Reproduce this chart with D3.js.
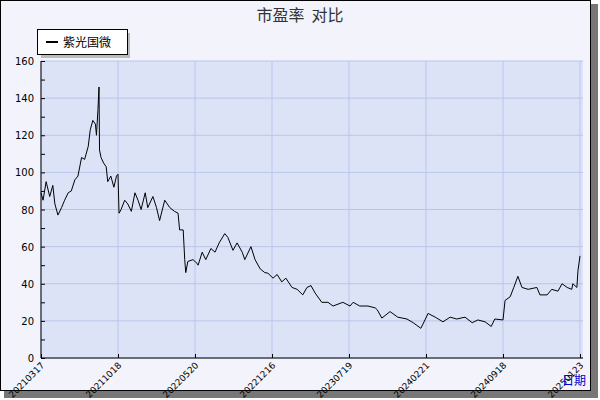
<!DOCTYPE html>
<html><head><meta charset="utf-8">
<script src="https://cdn.jsdelivr.net/npm/d3@7"></script>
<style>body{margin:0;background:#fff}</style></head>
<body><svg id="c" width="600" height="400"></svg>
<script>
const days=[0,4,10,17,23,27,33,40,46,53,59,66,72,79,85,92,96,101,106,108,111,113,114,117,122,127,130,136,142,147,150,152,156,163,169,176,183,189,195,203,208,218,225,231,241,251,260,267,270,277,280,282,286,296,304,306,314,321,331,339,347,358,364,374,382,392,397,409,417,427,436,442,452,460,469,477,489,499,510,518,526,534,547,559,569,588,602,608,621,637,651,655,664,680,695,713,725,740,748,754,768,783,797,810,826,840,851,865,877,884,900,904,914,921,929,937,949,966,972,986,995,1007,1015,1025,1034,1036,1044,1046,1050];
const pe=[89,85,95,87,93,83,77,81,85,89,90,96,98,108,107,114,123,128,126,120,134,146,112,108,105,103,95,98,92,98,99,78,80,85,83,79,89,85,80,89,81,87,81,74,85,81,79,78,69,69,53,46,52,53,51,50,57,53,59,57,62,67,65,58,62,57,53,60,53,48,46,45.7,43,45,41,43,38,37,34,38,39,35,30,30,28,30,28,30,28,28,27,26,21.5,25,22,21,19,16,20.5,24,22,19.5,22,21,22,19,20.5,19.5,17,21,20.5,31,33,38,44,38,37,38,34,34,37,36,40,38,37,40,38,47,55];
const tickDays=[0,150,300,450,600,750,900,1050];
const tickLabels=["20210317","20211018","20220520","20221216","20230719","20240221","20240918","20250123"];
const yTicks=[0,20,40,60,80,100,120,140,160];
const seriesName="紫光国微";

const svg=d3.select("#c");
const F="DejaVu Sans, sans-serif";
svg.append("rect").attr("x",4).attr("y",4).attr("width",594).attr("height",394).attr("fill","#777");
svg.append("rect").attr("x",0.5).attr("y",0.5).attr("width",590).attr("height",390).attr("fill","#f2f3fb").attr("stroke","#000");
const L=41,R=580,T=61,B=358;
const x=d3.scaleLinear().domain([0,1050]).range([L,R]);
const y=d3.scaleLinear().domain([0,160]).range([B,T]);
svg.append("rect").attr("x",L).attr("y",T).attr("width",583-L).attr("height",B-T).attr("fill","#dce3f7");
const g=svg.append("g");
yTicks.forEach(v=>g.append("line").attr("x1",L).attr("x2",583).attr("y1",y(v)).attr("y2",y(v)).attr("stroke","#b9c6ea"));
tickDays.forEach(d=>g.append("line").attr("x1",x(d)).attr("x2",x(d)).attr("y1",T).attr("y2",B).attr("stroke","#b9c6ea"));
const ya=svg.append("g").attr("transform",`translate(${L},0)`).call(d3.axisRight(y).tickValues(d3.range(0,161,10)).tickSize(4).tickFormat(""));
ya.select(".domain").remove();
ya.selectAll("line").attr("stroke","#000");
yTicks.forEach(v=>svg.append("text").attr("x",34).attr("y",y(v)+4).attr("text-anchor","end").attr("font-family",F).attr("font-size",10).text(v));
const xa=svg.append("g").attr("transform",`translate(0,${B})`).call(d3.axisTop(x).tickValues(tickDays).tickSize(4).tickFormat(""));
xa.select(".domain").remove();
xa.selectAll("line").attr("stroke","#000");
svg.append("line").attr("x1",L).attr("x2",L).attr("y1",T).attr("y2",B).attr("stroke","#000");
svg.append("line").attr("x1",L).attr("x2",583).attr("y1",B).attr("y2",B).attr("stroke","#000");
tickDays.forEach((d,i)=>svg.append("text").attr("transform",`translate(${x(d)+4},${B+8}) rotate(-45)`).attr("text-anchor","end").attr("font-family",F).attr("font-size",9).text(tickLabels[i]));
svg.append("path").datum(days.map((d,i)=>[d,pe[i]])).attr("fill","none").attr("stroke","#000").attr("stroke-width",1)
 .attr("d",d3.line().x(d=>x(d[0])).y(d=>y(d[1])));
svg.append("text").attr("x",300).attr("y",21).attr("text-anchor","middle").attr("font-family","Noto Sans CJK SC, sans-serif").attr("font-size",16).attr("fill","#333").style("white-space","pre").text("市盈率  对比");
svg.append("rect").attr("x",41).attr("y",33).attr("width",89).attr("height",25).attr("fill","#bbb");
svg.append("rect").attr("x",37.5).attr("y",29.5).attr("width",90).attr("height",25).attr("fill","#fff").attr("stroke","#000");
svg.append("line").attr("x1",46).attr("x2",58).attr("y1",42).attr("y2",42).attr("stroke","#000").attr("stroke-width",2);
svg.append("text").attr("x",63).attr("y",47).attr("font-family","Noto Sans CJK SC, sans-serif").attr("font-size",12).text(seriesName);
svg.append("text").attr("x",586).attr("y",385).attr("text-anchor","end").attr("font-family","Noto Sans CJK SC, sans-serif").attr("font-size",12).attr("fill","#0000cc").text("日期");
</script></body></html>
